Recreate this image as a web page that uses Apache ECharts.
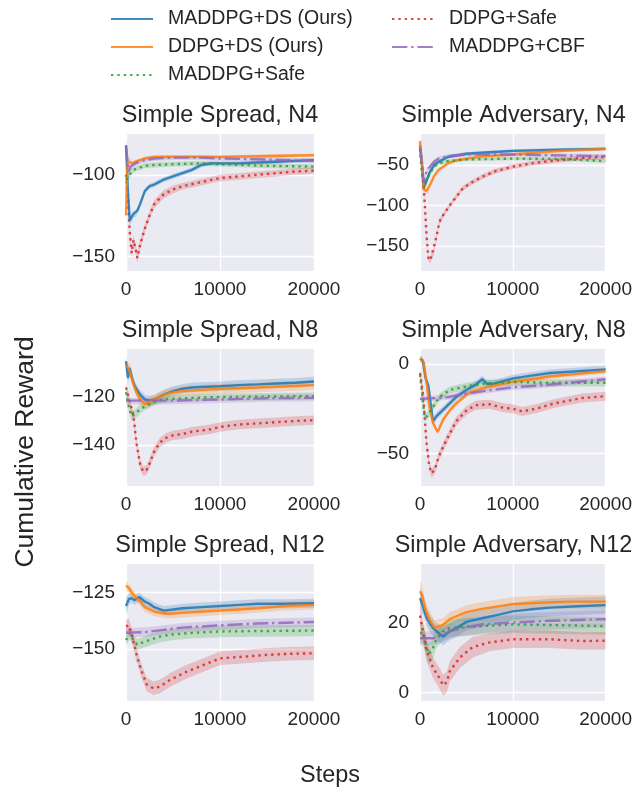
<!DOCTYPE html>
<html><head><meta charset="utf-8">
<script src="https://cdn.jsdelivr.net/npm/echarts@6/dist/echarts.min.js"></script>
<style>html,body{margin:0;padding:0;background:#fff}#c{width:635px;height:789px}</style>
</head><body><div id="c"></div>
<script>
const seriesNames = ['MADDPG+DS (Ours)', 'DDPG+DS (Ours)', 'MADDPG+Safe', 'DDPG+Safe', 'MADDPG+CBF'];
const panelTitles = ['Simple Spread, N4', 'Simple Adversary, N4', 'Simple Spread, N8', 'Simple Adversary, N8', 'Simple Spread, N12', 'Simple Adversary, N12'];
const xTicks = [0, 10000, 20000];
const yTicks = [[-150, -100], [-150, -100, -50], [-140, -120], [-50, 0], [-150, -125], [0, 20]];
const yRanges = [[-159, -75], [-181, -11.6], [-157.2, -99.9], [-68.2, 8.4], [-172.8, -112.5], [-2.5, 36.8]];

// each entry: [step, mean, half-width of band]
// Panel 1: Simple Spread, N4
const p1Blue = [[0,-82,5],[200,-110,4],[400,-128,3],[600,-126,2.5],[800,-124,2],[1000,-124,2],[1200,-122,2],[1500,-118,2],[2000,-110,1.5],[2500,-107,1.5],[3000,-106,1.5],[4000,-103,1.5],[5000,-101,1.5],[6000,-99,1.5],[7000,-97,1.5],[8000,-94,1.5],[9000,-93,1.2],[10000,-93,1.2],[12000,-93,1.2],[14000,-92.5,1.2],[16000,-92,1.2],[18000,-91.5,1.2],[20000,-91,1.2]];
const p1Orange = [[0,-125,4],[100,-100,3],[200,-92,2],[400,-91,1.5],[700,-93,1.5],[1000,-92,1.2],[1500,-91,1.2],[2000,-90,1.2],[3000,-89,1.2],[5000,-89,1],[10000,-89,1],[15000,-88.5,1],[20000,-88,1]];
const p1Green = [[0,-103,3],[300,-101,2],[600,-98,1.5],[1000,-96.5,1.5],[1500,-95.5,1.5],[2000,-94.5,1.5],[3000,-94,1.5],[5000,-93.5,1.5],[8000,-93,1.5],[10000,-93.5,1.5],[15000,-94.5,1.5],[20000,-95,1.5]];
const p1Red = [[0,-100,3],[200,-115,3],[400,-135,3],[600,-148,3],[800,-140,3],[1000,-145,3],[1200,-151,3],[1500,-143,3],[2000,-133,2.5],[2500,-125,2.5],[3000,-118,2.5],[4000,-112,2.5],[5000,-109,2.5],[6000,-107,2],[8000,-104.5,2],[10000,-102,2],[12000,-101,2],[14000,-100,2],[16000,-99,2],[18000,-98,2],[20000,-97.5,2]];
const p1Purple = [[0,-82,3],[100,-88,3],[300,-98,2.5],[500,-95,2],[1000,-93,1.5],[2000,-91,1.5],[3000,-90,1.5],[5000,-89.5,1.5],[8000,-89.5,1.5],[10000,-90,1.5],[14000,-90.5,1.5],[20000,-91.5,1.5]];

// Panel 2: Simple Adversary, N4
const p2Blue = [[0,-25,4],[200,-45,4],[400,-78,3],[700,-70,3],[1000,-60,2.5],[1500,-50,2],[2000,-46,2],[3000,-40,2],[5000,-36,2],[7000,-34.5,2],[10000,-32.5,2],[15000,-31,2],[20000,-30,2]];
const p2Orange = [[0,-20,4],[200,-50,4],[400,-80,3],[700,-82,3],[900,-83,3],[1200,-72,2.5],[1500,-64,2.5],[2000,-56,2],[3000,-48,2],[4000,-44,2],[5000,-42,2],[7000,-39,2],[10000,-37,2],[13000,-34,2],[16000,-32,2],[20000,-30,2]];
const p2Green = [[0,-30,4],[200,-60,4],[400,-78,3],[700,-68,3],[1000,-62,2.5],[1500,-52,2.5],[2000,-48,2],[3000,-45,2],[5000,-43,2],[10000,-42,2],[15000,-42.5,2],[20000,-45,2.5]];
const p2Red = [[0,-30,4],[300,-60,4],[500,-95,4],[700,-136,4],[900,-165,4],[1100,-168,4],[1300,-160,4],[1500,-158,4],[1800,-137,3.5],[2100,-120,3.5],[2600,-110,3],[3200,-100,3],[4000,-88,3],[4600,-79,3],[5500,-72,3],[6800,-64,3],[8000,-58,3],[10000,-52,3],[12000,-48,3],[14000,-45,3],[17500,-41,3],[20000,-40,3]];
const p2Purple = [[0,-28,4],[200,-50,4],[400,-72,3],[700,-58,3],[1000,-53,2.5],[1500,-46,2.5],[2000,-42,2.5],[3000,-39,2.5],[5000,-37,2.5],[10000,-37,2.5],[15000,-38,2.5],[20000,-39,2.5]];

// Panel 3: Simple Spread, N8
const p3Blue = [[0,-105,2.5],[200,-112,2.5],[400,-108,2.5],[700,-113,2],[1000,-116,2],[1500,-119,2],[2000,-121,2],[2500,-121.5,2],[3000,-121,2],[4000,-119,2],[5000,-117.5,2],[6000,-116.5,2],[7000,-116,2],[8000,-115.8,2],[10000,-115.5,2],[12000,-115,2],[14000,-114.7,2],[16000,-114.3,2],[18000,-114,2],[20000,-113.5,2]];
const p3Orange = [[0,-107,2],[300,-108,2],[600,-112,2],[1000,-117,2],[1500,-121,2],[2000,-123,2],[2500,-122,2],[3000,-121,2],[4000,-119,2],[5000,-118,2],[6000,-117.5,2],[8000,-117,2],[10000,-116.5,2],[14000,-116,2],[20000,-115,2]];
const p3Green = [[0,-118,2],[300,-124,2],[600,-128,2],[1000,-127,2],[1500,-125,2],[2000,-124,1.5],[3000,-122,1.5],[4000,-121,1.5],[6000,-120.5,1.5],[10000,-120,1.5],[20000,-119.6,1.5]];
const p3Red = [[0,-116,2],[400,-122,2],[800,-128,2],[1100,-139,2],[1500,-148,2],[1800,-151,2],[2200,-150.5,2],[2600,-147,2],[2900,-143.5,2],[3600,-139,2],[4300,-137,2],[5000,-136,2],[6000,-135.5,2],[7000,-134.5,2],[8000,-134,2],[9000,-133.5,2],[10000,-132.5,2],[12000,-131.5,2],[14000,-131,2],[16000,-130.5,2],[18000,-130,2],[20000,-129.7,2]];
const p3Purple = [[0,-121.5,1.5],[5000,-121.5,1.5],[10000,-121,1.5],[15000,-120.5,1.5],[20000,-120.3,1.5]];

// Panel 4: Simple Adversary, N8
const p4Blue = [[0,3,2],[300,2,2],[600,-8,2],[900,-12,2],[1100,-20,2],[1400,-32,2],[1800,-29,2],[2200,-27,2],[3200,-22,2],[4000,-18,2],[5000,-14.5,2],[6000,-11.5,2],[6700,-8.5,2],[7200,-11,2],[8000,-11,2],[10000,-8,2],[12000,-6.5,2],[14000,-5,2],[17000,-4,2],[20000,-3,2]];
const p4Orange = [[0,3,1.5],[400,1,1.5],[700,-10,1.5],[1000,-24,1.5],[1400,-33,1.5],[1900,-38,1.5],[2500,-31,1.5],[3200,-26,1.5],[3900,-22,1.5],[5300,-16,1.5],[6800,-13.5,1.5],[8000,-12,1.5],[10000,-10,1.5],[12000,-8.5,1.5],[14000,-7,1.5],[17000,-5.5,1.5],[20000,-4,1.5]];
const p4Green = [[0,-6,2],[300,-20,2],[500,-30,2],[800,-29,2],[1400,-24,2],[2100,-18.5,2],[3200,-14.5,2],[5000,-12.5,2],[6800,-11,2],[10000,-10,2],[14000,-10.5,2],[20000,-10.5,2]];
const p4Red = [[0,-5,2.5],[350,-18,2.5],[700,-44,2.5],[1000,-57,2.5],[1250,-61,2.5],[1600,-59,2.5],[2000,-52,2.5],[2800,-43,2.5],[3900,-32,2.5],[5000,-26,2.5],[6000,-23,2.5],[7500,-22.5,2.5],[9000,-24.5,2.5],[10000,-25,2.5],[11000,-26.5,2.5],[12500,-25,2.5],[14500,-22,2.5],[17500,-19,2.5],[20000,-18,2.5]];
const p4Purple = [[0,-19.5,1.5],[2000,-19,1.5],[3000,-18.5,1.5],[5000,-16.5,1.5],[7000,-15,1.5],[10000,-13,1.5],[13000,-12,1.5],[16000,-10.5,1.5],[20000,-8.5,1.5]];

// Panel 5: Simple Spread, N12
const p5Blue = [[0,-131,4],[300,-128,2.5],[600,-127.5,2],[900,-128.5,2],[1400,-127,2],[2000,-129,2],[2500,-130,2],[3000,-131.5,2],[4000,-133,2],[5000,-132.5,2],[6000,-132,2],[8000,-131.5,2],[10000,-131,2],[12000,-130.5,2],[14000,-130,2],[17000,-130,2],[20000,-129.8,2]];
const p5Orange = [[0,-122,2],[300,-123,2],[600,-125,2],[1000,-127,2],[1500,-129,2],[2000,-131.5,2],[3000,-133.5,2],[4500,-134.5,2],[6000,-134,2],[8000,-133.5,2],[10000,-133,2],[12000,-132.5,2],[14000,-132,2],[17000,-131,2],[20000,-130.5,2]];
const p5Green = [[0,-146,2.5],[400,-143,2.5],[800,-146,2.5],[1200,-148,2.5],[1800,-147,2.5],[2500,-146,2.5],[3500,-144.5,2.5],[5000,-143.5,2.5],[7000,-142.8,2.5],[10000,-142.2,2.5],[14000,-142,2.5],[20000,-141.8,2.5]];
const p5Red = [[0,-140,3],[300,-139.5,3],[700,-145,3],[1100,-152,3],[1600,-159,3],[2200,-165.5,3],[2900,-167.2,3],[3600,-166.5,3],[4700,-163.5,3],[6400,-160,3],[8500,-156.5,3],[10000,-154,3],[12800,-153.2,3],[15000,-152.5,3],[17500,-152,3],[20000,-151.8,3]];
const p5Purple = [[0,-142.7,2],[2000,-142.5,2],[4000,-141.5,2],[6000,-140.5,2],[8000,-140,2],[10000,-139.5,2],[14000,-138.7,2],[20000,-138,2]];

// Panel 6: Simple Adversary, N12
const p6Blue = [[0,27,3],[200,25.5,3],[400,25,3],[700,21.5,2.5],[1000,20,2.5],[1400,18.5,2.5],[2000,17,2.5],[2500,16,2.5],[3200,17.5,2.5],[4000,18.5,2.5],[5000,20.2,2.5],[6800,21.3,2.5],[8500,22.3,2.5],[10000,23.2,2.5],[12000,23.8,2.5],[14000,24.3,2.5],[17000,24.7,2.5],[20000,25,2.5]];
const p6Orange = [[0,29,3],[200,28,3],[500,24.5,2.5],[1000,21,2.5],[1600,18.5,2],[2100,19,2],[2500,19.3,2],[3200,21,2],[5000,23,2],[6800,24,2],[10000,25.3,2],[13000,25.7,2],[16000,26,2],[20000,26,2]];
const p6Green = [[0,17,3],[300,17,3],[700,13,3],[900,11,3],[1300,12,3],[1800,15.5,2.5],[2500,17.5,2.5],[3200,18.4,2.5],[5000,18.8,2.5],[6800,19,2.5],[10000,19.5,2.5],[14000,19.3,2.5],[20000,19,2.5]];
const p6Red = [[0,22,3],[350,17,3],[700,12,3],[1000,10,3],[1400,7,3],[2000,4.5,3],[2500,2,3],[2900,3,3],[3200,6,3],[4300,10,3],[5700,13,3],[7500,14.3,2.5],[10000,15.2,2.5],[14000,15.2,2.5],[17500,14.7,2.5],[20000,14.8,2.5]];
const p6Purple = [[0,15.5,2],[1500,15.5,2],[2500,16.5,2],[3200,17.5,2],[5000,18.7,2.5],[6800,19.5,2.5],[10000,20,2.5],[14000,20.5,2.5],[20000,21,2.5]];

const panels = [
  [p1Blue, p1Orange, p1Green, p1Red, p1Purple],
  [p2Blue, p2Orange, p2Green, p2Red, p2Purple],
  [p3Blue, p3Orange, p3Green, p3Red, p3Purple],
  [p4Blue, p4Orange, p4Green, p4Red, p4Purple],
  [p5Blue, p5Orange, p5Green, p5Red, p5Purple],
  [p6Blue, p6Orange, p6Green, p6Red, p6Purple]
];

const colors = ['#1f77b4', '#ff7f0e', '#2ca02c', '#d62728', '#9467bd'];
const LW = 2.4;
const lineTypes = ['solid', 'solid', [LW, LW * 1.65], [LW, LW * 1.65], [LW * 6.4, LW * 1.6, LW, LW * 1.6]];
const FONT = '"Liberation Sans", Arial, sans-serif';
const TXT = '#262626';
const colLeft = [126, 420], colWidth = [188, 187], rowTop = [134, 349, 564], rowH = 137;
const fmt = v => String(v).replace('-', '\u2212');

function bandRenderer(color) {
  return function (params, api) {
    if (params.dataIndexInside !== 0) return null;
    const n = params.dataInsideLength;
    const up = [], lo = [];
    for (let i = 0; i < n; i++) {
      const x = api.value(0, i);
      up.push(api.coord([x, api.value(2, i)]));
      lo.push(api.coord([x, api.value(1, i)]));
    }
    return {type: 'polygon', shape: {points: up.concat(lo.reverse())},
      style: {fill: color, opacity: 0.22}, silent: true};
  };
}

const grids = [], xAxes = [], yAxes = [], series = [], graphics = [];
for (let p = 0; p < 6; p++) {
  const c = p % 2, r = Math.floor(p / 2);
  grids.push({left: colLeft[c], top: rowTop[r], width: colWidth[c], height: rowH, show: true, backgroundColor: '#EAEAF2', borderWidth: 0});
  xAxes.push({type: 'value', gridIndex: p, min: 0, max: 20000, interval: 10000,
    axisLine: {show: false}, axisTick: {show: false},
    axisLabel: {formatter: v => String(v), fontSize: 19, fontFamily: FONT, color: TXT, margin: 9},
    splitLine: {show: true, lineStyle: {color: '#ffffff', width: 1.3}}});
  yAxes.push({type: 'value', gridIndex: p, min: yRanges[p][0], max: yRanges[p][1],
    axisLine: {show: false}, axisTick: {show: false, customValues: yTicks[p]},
    axisLabel: {customValues: yTicks[p], formatter: fmt, fontSize: 19, fontFamily: FONT, color: TXT, margin: 11},
    splitLine: {show: true, lineStyle: {color: '#ffffff', width: 1.3}}});
  const data = panels[p];
  for (let s = 0; s < 5; s++) {
    series.push({type: 'custom', name: 'band', xAxisIndex: p, yAxisIndex: p, silent: true, z: 1,
      data: data[s].map(d => [d[0], d[1] - d[2], d[1] + d[2]]),
      encode: {x: 0, y: [1, 2]},
      renderItem: bandRenderer(colors[s])});
  }
  for (let s = 0; s < 5; s++) {
    series.push({type: 'line', name: seriesNames[s], xAxisIndex: p, yAxisIndex: p,
      data: data[s].map(d => [d[0], d[1]]), symbol: 'none', z: s === 3 ? 3 : 4,
      itemStyle: {color: colors[s]},
      lineStyle: {color: colors[s], width: LW, type: lineTypes[s], opacity: 0.85, cap: 'butt'}});
  }
  graphics.push({type: 'text', x: colLeft[c] + colWidth[c] / 2, y: 116 + r * 215,
    style: {text: panelTitles[p], fontSize: 23.4, fontFamily: FONT, fill: TXT, align: 'center', verticalAlign: 'middle'}});
}
graphics.push({type: 'text', x: 26, y: 452, rotation: Math.PI / 2,
  style: {text: 'Cumulative Reward', fontSize: 26.5, fontFamily: FONT, fill: TXT, align: 'center', verticalAlign: 'middle'}});
graphics.push({type: 'text', x: 330, y: 776,
  style: {text: 'Steps', fontSize: 23.4, fontFamily: FONT, fill: TXT, align: 'center', verticalAlign: 'middle'}});

const legendCommon = {orient: 'vertical', top: 4, itemWidth: 42, itemHeight: 14, itemGap: 8,
  itemStyle: {opacity: 0, borderWidth: 0},
  textStyle: {fontSize: 19.5, fontFamily: FONT, color: TXT, lineHeight: 20, padding: [0, 0, 0, 10]}};
const chart = echarts.init(document.getElementById('c'), null, {renderer: 'canvas'});
chart.setOption({
  animation: false,
  backgroundColor: '#ffffff',
  legend: [
    Object.assign({}, legendCommon, {left: 105, data: seriesNames.slice(0, 3)}),
    Object.assign({}, legendCommon, {left: 386, data: seriesNames.slice(3)})
  ],
  grid: grids, xAxis: xAxes, yAxis: yAxes, series: series, graphic: graphics
});
</script></body></html>
